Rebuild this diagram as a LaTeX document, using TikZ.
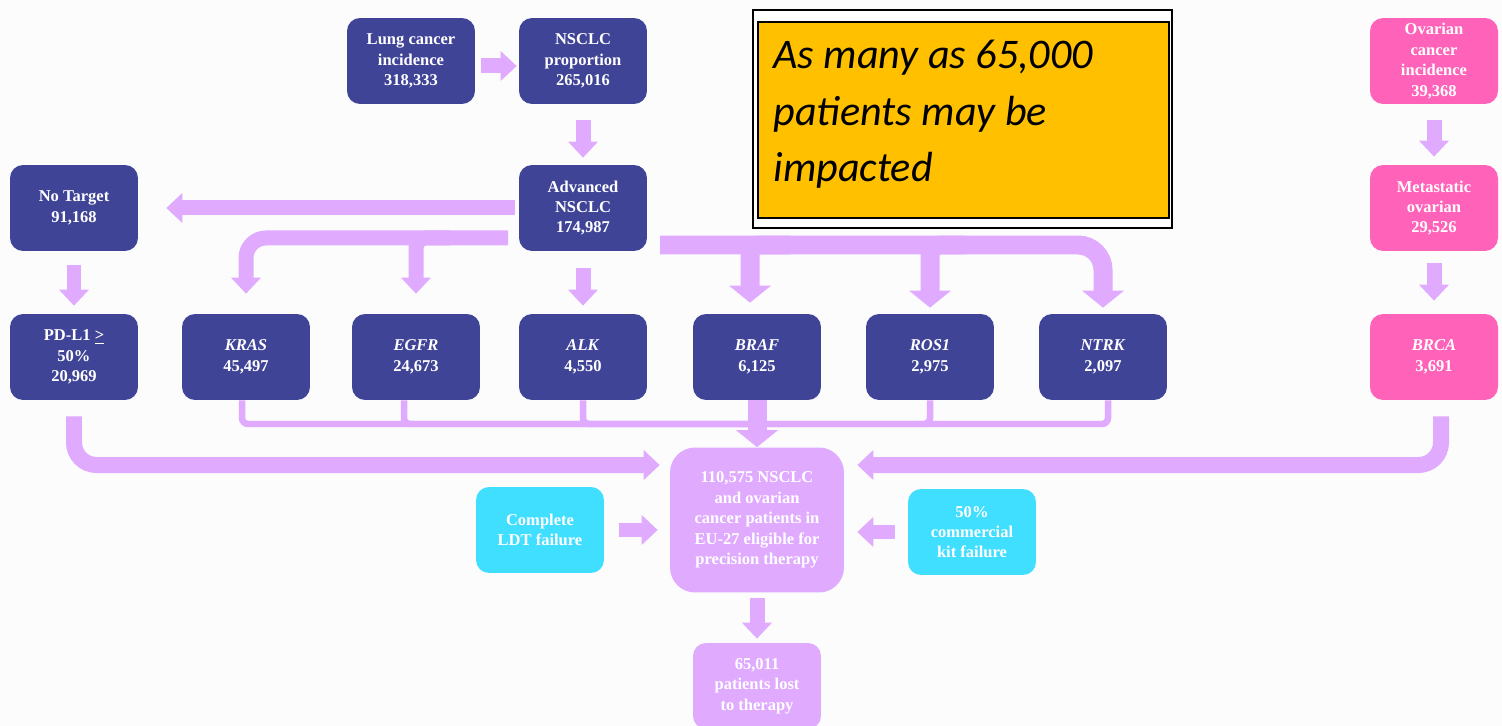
\documentclass[tikz,border=0pt]{standalone}
\usepackage{fontspec}
\setmainfont{Liberation Serif}
\newfontfamily\notefont{Carlito}
\usetikzlibrary{arrows.meta}
\definecolor{paper}{RGB}{252,252,253}
\definecolor{navy}{RGB}{63,68,151}
\definecolor{rose}{RGB}{255,99,185}
\definecolor{lilac}{RGB}{224,170,255}
\definecolor{aqua}{RGB}{64,223,255}
\definecolor{amber}{RGB}{255,192,0}

\begin{document}
\begin{tikzpicture}[x=0.02cm, y=-0.02cm,
  box/.style={rounded corners=0.26cm, minimum width=2.56cm, minimum height=1.72cm, inner sep=1pt, align=center, text=white, font=\fontsize{9.4}{11.6}\selectfont\bfseries},
  navybox/.style={box, fill=navy},
  rosebox/.style={box, fill=rose},
  lilacbox/.style={box, fill=lilac},
  aquabox/.style={box, fill=aqua},
  fat/.style={draw=lilac, line width=0.3cm, -{Triangle[width=0.58cm, length=0.32cm]}},
  bigfat/.style={draw=lilac, line width=0.38cm, -{Triangle[width=0.82cm, length=0.34cm]}},
  slim/.style={draw=lilac, line width=0.13cm, rounded corners=0.12cm}]
\fill[paper] (0,0) rectangle (1502,726);
\useasboundingbox (0,0) rectangle (1502,726);

\node[navybox] (lung) at (411,61) {Lung cancer\\incidence\\318,333};
\node[navybox] (nsclc) at (583,61) {NSCLC\\proportion\\265,016};
\node[navybox] (adv) at (583,208) {Advanced\\NSCLC\\174,987};
\node[navybox] (notarget) at (74,208) {No Target\\91,168};
\node[navybox] (pdl1) at (74,357) {PD-L1 \underline{>}\\50\%\\20,969};
\node[navybox] (kras) at (246,357) {\textit{KRAS}\\45,497};
\node[navybox] (egfr) at (416,357) {\textit{EGFR}\\24,673};
\node[navybox] (alk) at (583,357) {\textit{ALK}\\4,550};
\node[navybox] (braf) at (757,357) {\textit{BRAF}\\6,125};
\node[navybox] (ros1) at (930,357) {\textit{ROS1}\\2,975};
\node[navybox] (ntrk) at (1103,357) {\textit{NTRK}\\2,097};
\node[rosebox] (ovinc) at (1434,61) {Ovarian\\cancer\\incidence\\39,368};
\node[rosebox] (meta) at (1434,208) {Metastatic\\ovarian\\29,526};
\node[rosebox] (brca) at (1434,357) {\textit{BRCA}\\3,691};
\node[lilacbox, minimum width=3.48cm, minimum height=2.9cm, rounded corners=0.5cm] (pool) at (757,520) {110,575 NSCLC\\and ovarian\\cancer patients in\\EU-27 eligible for\\precision therapy};
\node[aquabox] (ldt) at (540,530) {Complete\\LDT failure};
\node[aquabox] (kit) at (972,532) {50\%\\commercial\\kit failure};
\node[lilacbox] (lost) at (757,686) {65,011\\patients lost\\to therapy};

\node[draw, fill=white, line width=1pt, minimum width=8.38cm, minimum height=4.36cm, inner sep=0] (frame) at (962.5,119) {};
\node[draw, fill=amber, line width=1.2pt, minimum width=8.22cm, minimum height=3.92cm, inner sep=0] (note) at (963.5,120) {};
\node[anchor=north west, inner sep=0, align=left, font=\notefont\itshape\fontsize{24}{32}\selectfont] (notetext) at (773,40) {As many as 65,000\\patients may be\\impacted};

\coordinate (lbar) at (508,238);
\coordinate (egfrfork) at (450,238);
\coordinate (rbar) at (660,245);
\coordinate (braffork) at (790,245);
\coordinate (rosfork) at (965,245);
\coordinate (collect) at (757,424);

\draw[fat] ([xshift=0.12cm,yshift=-0.1cm]lung.east) -- ([xshift=-0.04cm,yshift=-0.1cm]nsclc.west);
\draw[fat] ([yshift=-0.32cm]nsclc.south) -- ([yshift=0.14cm]adv.north);
\draw[fat] ([xshift=-0.08cm]adv.west) -- ([xshift=0.56cm]notarget.east);
\draw[fat] ([yshift=-0.28cm]notarget.south) -- ([yshift=0.16cm]pdl1.north);
\draw[fat, rounded corners=0.4cm] (lbar) -| ([yshift=0.4cm]kras.north);
\draw[fat, rounded corners=0.2cm] (egfrfork) -| ([yshift=0.4cm]egfr.north);
\draw[fat] ([yshift=-0.34cm]adv.south) -- ([yshift=0.16cm]alk.north);
\draw[bigfat, rounded corners=0.5cm] (rbar) -| ([yshift=0.12cm]ntrk.north);
\draw[bigfat, rounded corners=0.2cm] (braffork) -| ([xshift=-0.14cm,yshift=0.22cm]braf.north);
\draw[bigfat, rounded corners=0.2cm] (rosfork) -| ([yshift=0.12cm]ros1.north);
\draw[fat] ([yshift=-0.32cm]ovinc.south) -- ([yshift=0.16cm]meta.north);
\draw[fat] ([yshift=-0.24cm]meta.south) -- ([yshift=0.26cm]brca.north);

\draw[slim] ([xshift=-0.08cm]kras.south) |- (collect);
\draw[slim] ([xshift=-0.24cm]egfr.south) |- (collect);
\draw[slim] (alk.south) |- (collect);
\draw[slim] (ros1.south) |- (collect);
\draw[slim] ([xshift=0.1cm]ntrk.south) |- (collect);
\draw[bigfat] (braf.south) -- (pool.north);

\draw[fat, line width=0.32cm, rounded corners=0.45cm] ([yshift=-0.32cm]pdl1.south) |- ([xshift=-0.2cm,yshift=1.1cm]pool.west);
\draw[fat, line width=0.32cm, rounded corners=0.45cm] ([xshift=0.14cm,yshift=-0.32cm]brca.south) |- ([xshift=0.26cm,yshift=1.1cm]pool.east);
\draw[fat] ([xshift=0.3cm]ldt.east) -- ([xshift=-0.24cm]pool.west |- ldt.east);
\draw[fat] ([xshift=-0.26cm]kit.west) -- ([xshift=0.26cm]pool.east |- kit.west);
\draw[fat] ([yshift=-0.1cm]pool.south) -- ([yshift=0.08cm]lost.north);
\end{tikzpicture}
\end{document}
